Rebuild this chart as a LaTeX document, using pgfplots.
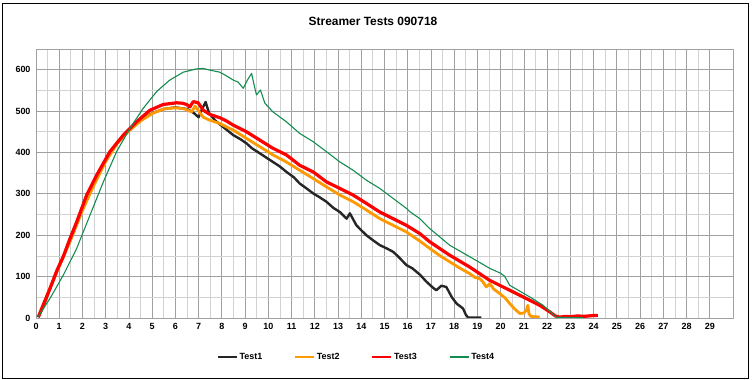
\documentclass[border=0pt]{standalone}
\usepackage{pgfplots}
\pgfplotsset{compat=1.18}
\usepackage{fontspec}
\setmainfont{Liberation Sans}
\definecolor{cblack}{RGB}{38,38,38}
\definecolor{corange}{RGB}{255,153,0}
\definecolor{cred}{RGB}{255,0,0}
\definecolor{cgreen}{RGB}{20,140,80}
\definecolor{gmaj}{RGB}{160,160,160}
\definecolor{gmin}{RGB}{210,210,210}
\begin{document}
\begin{tikzpicture}
\useasboundingbox (0bp,0bp) rectangle (753bp,380bp);
\draw[black,line width=0.8bp] (2bp,2bp) rectangle (748bp,377bp);
\node[font=\bfseries\fontsize{12}{14}\selectfont] at (373bp,359bp) {Streamer Tests 090718};
\begin{axis}[
  at={(36bp,62bp)}, anchor=south west,
  width=697bp, height=269bp, scale only axis,
  xmin=0, xmax=30, ymin=0, ymax=650,
  xtick={0,1,...,29}, ytick={0,100,...,600},
  minor x tick num=1, minor y tick num=1,
  grid=both,
  major grid style={gmaj,line width=0.8bp},
  minor grid style={gmin,line width=0.8bp},
  axis line style={gmaj,line width=0.8bp},
  major tick length=0pt, minor tick length=0pt,
  tick label style={font=\bfseries\fontsize{9}{10}\selectfont},
  /pgf/number format/assume math mode=true,
  xticklabel style={yshift=-2bp},
  yticklabel style={xshift=-2bp},
  legend columns=4,
  legend style={draw=none, fill=none, at={(0.46,-0.145)}, anchor=center,
    font=\bfseries\fontsize{9}{10}\selectfont,
    /tikz/every even column/.append style={column sep=30bp},
    inner sep=0pt},
  legend image code/.code={\draw[#1,line width=1.5bp] (0bp,0bp) -- (19bp,0bp);},
  line join=round,
]
\addplot[color=cblack,line width=2.4bp] coordinates {
(0.1,2) (0.3,25) (0.6,70) (1.0,125) (1.5,190) (2.0,262) (2.5,325) (3.0,382) (3.5,425) (4.0,455) (4.5,478) (5.0,495) (5.5,505) (6.0,509) (6.5,505) (6.8,495) (7.0,485) (7.15,505) (7.3,522) (7.45,495) (7.7,478) (7.91,468) (8.2,455) (8.49,442) (8.8,432) (9.06,422) (9.3,410) (9.63,398) (9.9,388) (10.2,377) (10.5,366) (10.78,353) (11.1,340) (11.35,325) (11.6,315) (11.93,301) (12.2,292) (12.5,281) (12.8,266) (13.08,256) (13.37,240) (13.51,253) (13.79,224) (14.0,212) (14.22,200) (14.5,188) (14.8,176) (15.1,168) (15.37,160) (15.6,148) (15.94,128) (16.2,120) (16.52,105) (16.8,88) (17.05,75) (17.23,67) (17.45,78) (17.66,75) (17.9,50) (18.1,35) (18.38,23) (18.5,8) (18.6,1) (19.17,1)};
\addlegendentry{Test1}
\addplot[color=corange,line width=2.8bp] coordinates {
(0.1,4) (0.3,30) (0.6,72) (1.0,125) (1.5,190) (2.0,260) (2.5,322) (3.0,378) (3.5,422) (4.0,452) (4.5,476) (5.0,494) (5.5,505) (6.0,508) (6.4,505) (6.7,498) (6.85,512) (7.0,500) (7.2,485) (7.48,478) (7.91,470) (8.34,458) (8.49,454) (9.06,434) (9.63,414) (10.2,394) (10.78,377) (11.35,357) (11.93,337) (12.5,317) (13.08,297) (13.65,281) (14.22,261) (14.8,240) (15.37,224) (15.94,208) (16.52,186) (16.95,168) (17.4,150) (17.8,136) (18.2,122) (18.67,107) (18.9,98) (19.1,95) (19.24,87) (19.38,75) (19.53,83) (19.7,70) (19.96,59) (20.2,48) (20.39,35) (20.6,22) (20.82,11) (21.0,12) (21.12,20) (21.17,31) (21.22,10) (21.3,4) (21.68,2)};
\addlegendentry{Test2}
\addplot[color=cred,line width=3.2bp] coordinates {
(0.1,2) (0.3,30) (0.6,71) (0.9,115) (1.17,148) (1.45,190) (1.75,232) (2.18,297) (2.61,345) (3.18,402) (3.76,442) (4.33,474) (4.9,502) (5.48,516) (6.05,520) (6.3,519) (6.48,516) (6.62,510) (6.77,523) (6.98,520) (7.2,502) (7.48,492) (7.91,484) (8.2,476) (8.49,466) (9.06,450) (9.63,430) (10.2,410) (10.78,394) (11.35,369) (11.93,353) (12.5,329) (13.08,313) (13.65,297) (14.22,277) (14.8,256) (15.37,240) (15.94,224) (16.52,204) (16.95,184) (17.8,152) (18.67,123) (19.53,91) (20.39,67) (21.25,43) (21.7,30) (22.11,15) (22.35,5) (22.54,2) (22.8,4) (23.0,3) (23.3,5) (23.6,4) (24.0,6) (24.18,6)};
\addlegendentry{Test3}
\addplot[color=cgreen,line width=1.1bp] coordinates {
(0.1,4) (0.6,47) (1.17,103) (1.75,168) (2.32,248) (2.9,329) (3.47,402) (4.04,458) (4.62,507) (5.19,547) (5.76,575) (6.34,594) (6.91,602) (7.2,603) (7.48,599) (7.91,594) (8.2,585) (8.49,575) (8.7,570) (8.92,555) (9.1,575) (9.28,591) (9.4,560) (9.49,539) (9.66,551) (9.85,519) (10.2,498) (10.78,474) (11.35,446) (11.93,426) (12.5,402) (13.08,377) (13.65,357) (14.22,333) (14.8,313) (15.37,289) (15.94,265) (16.09,257) (16.52,240) (16.95,216) (17.8,176) (18.67,148) (19.53,120) (20.0,108) (20.17,101) (20.39,79) (21.25,51) (21.82,31) (22.4,2) (23.0,1) (23.54,1)};
\addlegendentry{Test4}
\end{axis}
\end{tikzpicture}
\end{document}
